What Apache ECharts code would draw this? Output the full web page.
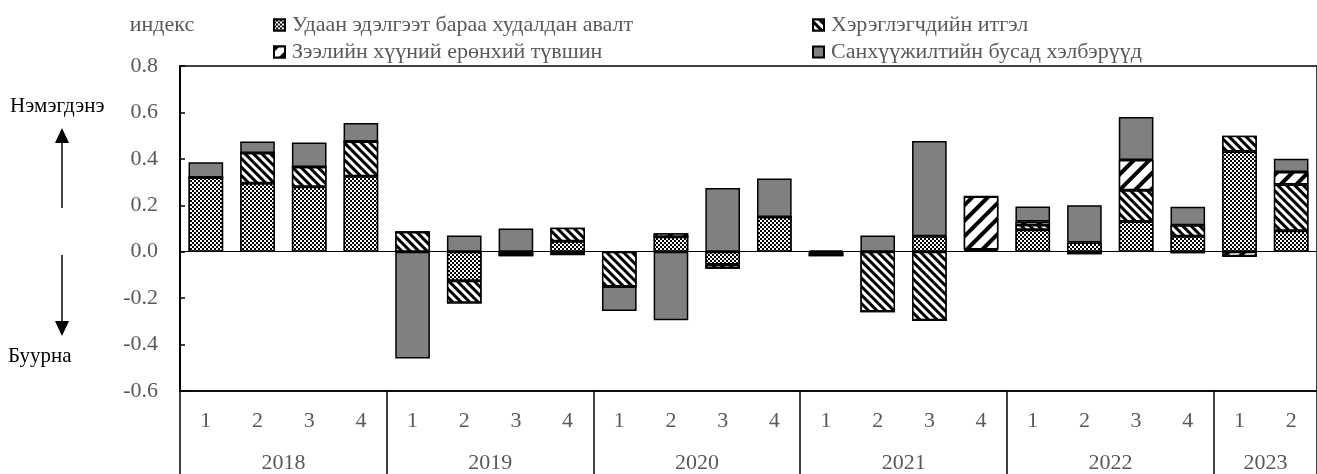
<!DOCTYPE html>
<html>
<head>
<meta charset="utf-8">
<script src="https://cdn.jsdelivr.net/npm/echarts@6/dist/echarts.min.js"></script>
<style>
  html, body { margin: 0; padding: 0; background: #fff; }
  #chart { width: 1317px; height: 474px; }
</style>
</head>
<body>
<div id="chart"></div>
<script>
// quarters and years
var quarters = ['1', '2', '3', '4', '1', '2', '3', '4', '1', '2', '3', '4',
  '1', '2', '3', '4', '1', '2', '3', '4', '1', '2'];
var years = ['2018', '2019', '2020', '2021', '2022', '2023'];
var yearStart = [0, 4, 8, 12, 16, 20];

// series values, index
var durableGoods = [0.32, 0.295, 0.28, 0.325, 0, -0.125, -0.01, 0.045,
  0, 0.065, -0.055, 0.15, -0.008, 0, 0.067, 0.004,
  0.095, 0.04, 0.13, 0.067, 0.432, 0.09];
var consumerTrust = [0, 0.13, 0.085, 0.15, 0.085, -0.095, 0, 0.058,
  -0.15, 0, -0.015, 0, -0.008, -0.258, -0.295, 0.006,
  0.02, -0.008, 0.135, 0.047, 0.068, 0.2];
var interestRate = [0, 0, 0, 0, 0, 0, -0.01, -0.012,
  0, 0.015, 0, 0, 0, 0, 0, 0.228,
  0.015, 0, 0.13, -0.007, -0.02, 0.053];
var otherFinance = [0.065, 0.05, 0.105, 0.08, -0.46, 0.07, 0.1, 0,
  -0.105, -0.295, 0.275, 0.165, 0.006, 0.07, 0.41, 0,
  0.065, 0.16, 0.185, 0.08, 0, 0.058];

var seriesNames = [
  'Удаан эдэлгээт бараа худалдан авалт',
  'Хэрэглэгчдийн итгэл',
  'Зээлийн хүүний ерөнхий түвшин',
  'Санхүүжилтийн бусад хэлбэрүүд'
];

var FONT = "'Times New Roman', 'Liberation Serif', serif";
var GREY = '#595959';
var FS = 22;

// year label sits on the 2nd quarter, then shifted half a band to the right
var yearLabels = quarters.map(function () { return ''; });
for (var i = 0; i < years.length; i++) {
  yearLabels[yearStart[i] + 1] = years[i];
}
yearLabels[20] = '2023';
yearLabels[21] = '';

var decals = [
  { symbol: 'rect', symbolSize: 1, dashArrayX: [[2, 2], [0, 2, 2, 0]], dashArrayY: [2, 0],
    color: '#000', backgroundColor: '#fff', rotation: 0 },
  { symbol: 'rect', symbolSize: 1, dashArrayX: [1, 0], dashArrayY: [3, 3],
    color: '#000', backgroundColor: '#fff', rotation: Math.PI / 4 },
  { symbol: 'rect', symbolSize: 1, dashArrayX: [1, 0], dashArrayY: [4, 7],
    color: '#000', backgroundColor: '#fff', rotation: -Math.PI / 4 },
  null
];
var dataList = [durableGoods, consumerTrust, interestRate, otherFinance];

var series = dataList.map(function (d, k) {
  var s = {
    name: seriesNames[k],
    type: 'bar',
    stack: 'total',
    barWidth: '67%',
    xAxisIndex: 0,
    data: d,
    itemStyle: {
      color: k === 3 ? '#808080' : '#fff',
      borderColor: '#000',
      borderWidth: 1.5
    },
    emphasis: { disabled: true }
  };
  if (decals[k]) s.itemStyle.decal = decals[k];
  return s;
});
series[0].markLine = {
  silent: true,
  symbol: 'none',
  label: { show: false },
  lineStyle: { color: '#000', width: 1, type: 'solid' },
  data: [{ yAxis: 0 }]
};

var legendPos = [[273, 14], [812, 14], [273, 41], [812, 41]];
var legends = seriesNames.map(function (n, k) {
  return {
    data: [n],
    left: legendPos[k][0],
    top: legendPos[k][1],
    padding: 0,
    itemWidth: 11,
    itemHeight: 11,
    selectedMode: false,
    icon: 'rect',
    textStyle: { fontFamily: FONT, fontSize: FS, color: GREY, padding: [0, 0, 0, 2] }
  };
});

var chart = echarts.init(document.getElementById('chart'));
chart.setOption({
  animation: false,
  backgroundColor: '#fff',
  legend: legends,
  grid: {
    left: 180, top: 66, width: 1146, height: 326,
    show: true, borderColor: '#000', borderWidth: 1.5, backgroundColor: 'transparent'
  },
  xAxis: [{
    type: 'category',
    data: quarters,
    position: 'bottom',
    axisLine: { onZero: false, lineStyle: { color: '#000', width: 1.5 } },
    axisTick: { show: false },
    axisLabel: { interval: 0, margin: 19, fontFamily: FONT, fontSize: FS, color: GREY }
  }, {
    type: 'category',
    data: yearLabels,
    position: 'bottom',
    axisLine: { show: false, onZero: false },
    axisTick: {
      show: true,
      length: 84,
      interval: function (idx) { return idx % 4 === 0; },
      lineStyle: { color: '#000', width: 1.5 }
    },
    axisLabel: {
      interval: 0, margin: 61, fontFamily: FONT, fontSize: FS, color: GREY,
      padding: [0, 0, 0, 52]
    }
  }],
  yAxis: {
    type: 'value',
    min: -0.6,
    max: 0.8,
    interval: 0.2,
    name: 'индекс',
    nameLocation: 'end',
    nameGap: 30,
    nameTextStyle: { fontFamily: FONT, fontSize: FS, color: GREY, padding: [0, 36, 0, 0] },
    axisLine: { show: true, lineStyle: { color: '#000', width: 2 } },
    axisTick: { show: true, inside: true, length: 5, lineStyle: { color: '#000', width: 1.5 } },
    splitLine: { show: false },
    axisLabel: {
      margin: 22, fontFamily: FONT, fontSize: FS, color: GREY,
      formatter: function (v) { return v.toFixed(1); }
    }
  },
  graphic: [
    { type: 'text', left: 10, top: 96,
      style: { text: 'Нэмэгдэнэ', font: '21px ' + FONT, fill: '#000' } },
    { type: 'line', shape: { x1: 62, y1: 208, x2: 62, y2: 140 }, style: { stroke: '#000', lineWidth: 1.5 } },
    { type: 'polygon', shape: { points: [[62, 128], [55, 143], [69, 143]] }, style: { fill: '#000' } },
    { type: 'line', shape: { x1: 62, y1: 255, x2: 62, y2: 322 }, style: { stroke: '#000', lineWidth: 1.5 } },
    { type: 'polygon', shape: { points: [[62, 336], [55, 321], [69, 321]] }, style: { fill: '#000' } },
    { type: 'text', left: 8, top: 346,
      style: { text: 'Буурна', font: '21px ' + FONT, fill: '#000' } }
  ],
  series: series
});
</script>
</body>
</html>
